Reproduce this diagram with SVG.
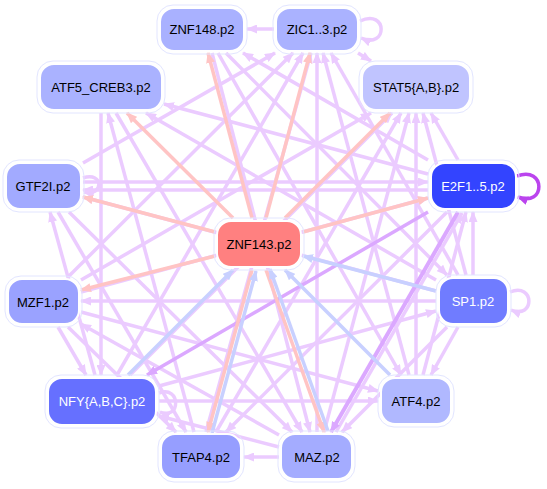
<svg xmlns="http://www.w3.org/2000/svg" width="547" height="489" viewBox="0 0 547 489">
<style>
.e{fill:none;stroke-width:3.5}
.pu{stroke:#ebcbff}
.dk{stroke:#dba8ff}
.pk{stroke:#ffc4c4}
.bl{stroke:#c8d0ff}
.n rect.b{stroke:#fff;stroke-width:2}
.n rect.o{fill:none;stroke:#e2e5ff;stroke-width:1}
.n text{font-family:"Liberation Sans",Arial,sans-serif;font-size:13px;text-anchor:middle;dominant-baseline:central;fill:#000}
.n text.w{fill:#fff}
</style>
<defs>
<marker id="apu" markerUnits="userSpaceOnUse" markerWidth="11" markerHeight="9" refX="10" refY="4.5" orient="auto"><path d="M0,0L11,4.5L0,9z" fill="#ebcbff"/></marker>
<marker id="adk" markerUnits="userSpaceOnUse" markerWidth="11" markerHeight="9" refX="10" refY="4.5" orient="auto"><path d="M0,0L11,4.5L0,9z" fill="#dba8ff"/></marker>
<marker id="apk" markerUnits="userSpaceOnUse" markerWidth="11" markerHeight="9" refX="10" refY="4.5" orient="auto"><path d="M0,0L11,4.5L0,9z" fill="#ffc4c4"/></marker>
<marker id="abl" markerUnits="userSpaceOnUse" markerWidth="11" markerHeight="9" refX="10" refY="4.5" orient="auto"><path d="M0,0L11,4.5L0,9z" fill="#c8d0ff"/></marker>
<marker id="aes" markerUnits="userSpaceOnUse" markerWidth="11" markerHeight="9" refX="10" refY="4.5" orient="auto"><path d="M0,0L11,4.5L0,9z" fill="#bb44ee"/></marker>
</defs>
<g id="connectors">
<g class="e pu" marker-end="url(#apu)">
<path d="M274,29L247,29"/>
<path d="M358,53L371,61"/>
<path d="M360,21C388,8 388,50 361,38"/>
<path d="M510,292C535,282 535,320 511,310"/>
<path d="M83,178C104,171 104,197 84,192"/>
<path d="M159,393C181,385 181,421 160,412"/>
<path d="M428,174L164,104"/>
<path d="M428,160L243,53"/>
<path d="M428,190L83,190"/>
<path d="M458,160L431,113"/>
<path d="M473,275L473,212"/>
<path d="M458,327L431,375"/>
<path d="M447,327L342,432"/>
<path d="M436,280L146,113"/>
<path d="M436,291L83,197"/>
<path d="M436,301L81,301"/>
<path d="M466,275L423,113"/>
<path d="M58,327L86,375"/>
<path d="M68,277L293,53"/>
<path d="M68,327L176,432"/>
<path d="M81,312L378,391"/>
<path d="M81,292L428,198"/>
<path d="M83,163L275,53"/>
<path d="M83,182L428,182"/>
<path d="M69,212L292,432"/>
<path d="M58,212L186,432"/>
<path d="M101,113L101,375"/>
<path d="M116,113L302,432"/>
<path d="M159,401L378,401"/>
<path d="M117,375L303,53"/>
<path d="M130,375L392,113"/>
<path d="M159,386L436,311"/>
<path d="M95,375L50,212"/>
<path d="M206,432L311,53"/>
<path d="M216,432L401,113"/>
<path d="M194,432L108,113"/>
<path d="M279,457L244,457"/>
<path d="M317,432L317,53"/>
<path d="M279,447L159,416"/>
<path d="M324,432L409,113"/>
<path d="M336,432L462,213"/>
<path d="M279,435L81,324"/>
<path d="M423,375L466,212"/>
<path d="M409,375L323,53"/>
<path d="M416,375L416,113"/>
<path d="M212,53L310,432"/>
<path d="M226,53L447,275"/>
<path d="M218,53L401,375"/>
<path d="M447,212L226,432"/>
<path d="M458,275L331,53"/>
<path d="M81,280L371,113"/>
</g>
<g class="e dk" marker-end="url(#adk)">
<path d="M428,212L147,375"/>
<path d="M458,212L331,432" stroke-width="4"/>
</g>
<path class="e" stroke="#bb44ee" marker-end="url(#aes)" d="M517,176C546,165 546,208 518,197"/>
<g class="e pk" marker-end="url(#apk)">
<path d="M252,218L208,53"/>
<path d="M266,218L310,53"/>
<path d="M233,218L127,113"/>
<path d="M285,218L390,113"/>
<path d="M215,232L83,197"/>
<path d="M303,232L428,198"/>
<path d="M215,256L81,290"/>
<path d="M252,270L208,432"/>
<path d="M266,270L324,432"/>
</g>
<g class="e bl" marker-end="url(#abl)">
<path d="M128,375L233,270"/>
<path d="M212,433L256,271"/>
<path d="M328,431L270,269"/>
<path d="M390,375L285,270"/>
<path d="M436,291L303,256"/>
</g>
</g>
<g id="ZNF148" class="n"><rect class="o" x="157" y="5" width="90" height="49" rx="16"/><rect class="b" x="160" y="8" width="84" height="43" rx="14" fill="#a9b1ff"/><text x="202" y="29.5">ZNF148.p2</text></g>
<g id="ZIC1_3" class="n"><rect class="o" x="273" y="5" width="88" height="49" rx="16"/><rect class="b" x="276" y="8" width="82" height="43" rx="14" fill="#aab2ff"/><text x="317" y="29.5">ZIC1..3.p2</text></g>
<g id="ATF5_CREB3" class="n"><rect class="o" x="37" y="61" width="128" height="52" rx="16"/><rect class="b" x="40" y="64" width="122" height="46" rx="14" fill="#aab2ff"/><text x="101" y="87.5">ATF5_CREB3.p2</text></g>
<g id="STAT5" class="n"><rect class="o" x="359" y="61" width="114" height="52" rx="16"/><rect class="b" x="362" y="64" width="108" height="46" rx="14" fill="#c0c4ff"/><text x="416" y="87.5">STAT5{A,B}.p2</text></g>
<g id="GTF2I" class="n"><rect class="o" x="3" y="160" width="81" height="52" rx="16"/><rect class="b" x="6" y="163" width="75" height="46" rx="14" fill="#a2aaff"/><text x="43" y="186.5">GTF2I.p2</text></g>
<g id="E2F1_5" class="n"><rect class="o" x="428" y="160" width="91" height="52" rx="16"/><rect class="b" x="431" y="163" width="85" height="46" rx="14" fill="#3344ff"/><text class="w" x="473" y="186.5">E2F1..5.p2</text></g>
<g id="ZNF143" class="n"><rect class="o" x="214" y="218" width="90" height="52" rx="16"/><rect class="b" x="217" y="221" width="84" height="46" rx="14" fill="#ff8080"/><text x="259" y="244.5">ZNF143.p2</text></g>
<g id="MZF1" class="n"><rect class="o" x="5" y="276" width="77" height="51" rx="16"/><rect class="b" x="8" y="279" width="71" height="45" rx="14" fill="#9aa2ff"/><text x="43" y="302">MZF1.p2</text></g>
<g id="SP1" class="n"><rect class="o" x="436" y="275" width="75" height="52" rx="16"/><rect class="b" x="439" y="278" width="69" height="46" rx="14" fill="#707cff"/><text class="w" x="473" y="301.5">SP1.p2</text></g>
<g id="NFY" class="n"><rect class="o" x="45" y="375" width="114" height="53" rx="16"/><rect class="b" x="48" y="378" width="108" height="47" rx="14" fill="#6670ff"/><text class="w" x="102" y="401.5">NFY{A,B,C}.p2</text></g>
<g id="ATF4" class="n"><rect class="o" x="378" y="375" width="76" height="52" rx="16"/><rect class="b" x="381" y="378" width="70" height="46" rx="14" fill="#b0b8ff"/><text x="416" y="401.5">ATF4.p2</text></g>
<g id="TFAP4" class="n"><rect class="o" x="158" y="431" width="86" height="51" rx="16"/><rect class="b" x="161" y="434" width="80" height="45" rx="14" fill="#969eff"/><text x="201" y="457">TFAP4.p2</text></g>
<g id="MAZ" class="n"><rect class="o" x="278" y="431" width="77" height="51" rx="16"/><rect class="b" x="281" y="434" width="71" height="45" rx="14" fill="#a4acff"/><text x="317" y="457">MAZ.p2</text></g>
</svg>
